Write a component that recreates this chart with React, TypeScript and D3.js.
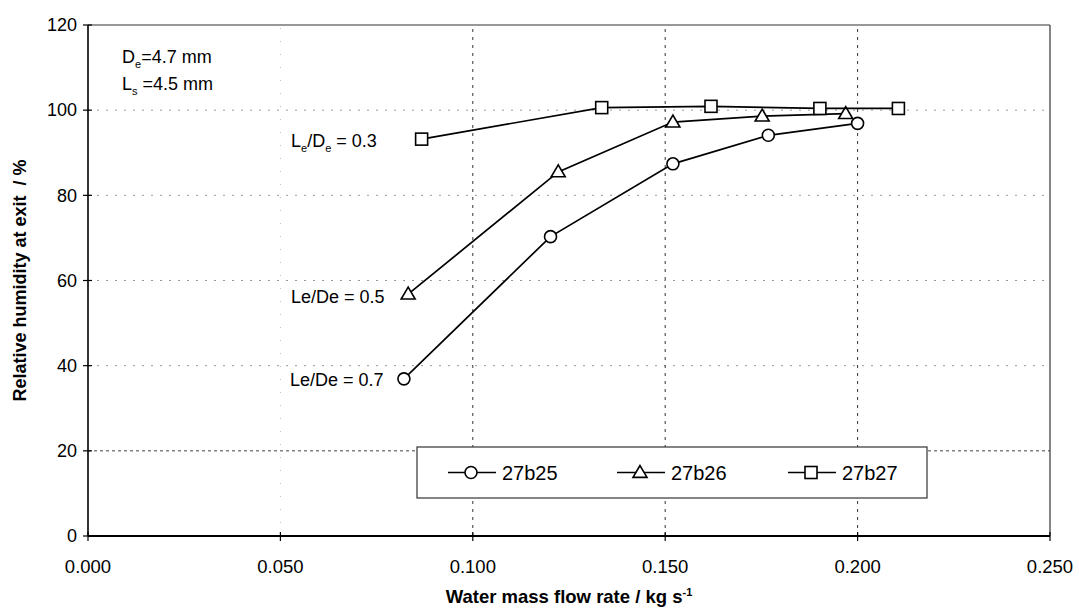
import * as d3 from 'd3'

const flow25 = [0.0821, 0.1202, 0.152, 0.1768, 0.2]
const rh25 = [36.9, 70.3, 87.4, 94.1, 96.9]
const flow26 = [0.0832, 0.1222, 0.152, 0.1752, 0.1969]
const rh26 = [56.8, 85.5, 97.2, 98.6, 99.2]
const flow27 = [0.0867, 0.1335, 0.1619, 0.1902, 0.2106]
const rh27 = [93.2, 100.6, 100.9, 100.4, 100.4]

const seriesNames = ['27b25', '27b26', '27b27']
const markers = ['circle', 'triangle', 'square']
const xTicks = [0, 0.05, 0.1, 0.15, 0.2, 0.25]
const yTicks = [0, 20, 40, 60, 80, 100, 120]

const width = 1079
const height = 608
const margin = { top: 25, right: 29, bottom: 72, left: 88 }
const font = 'Arial, "Liberation Sans", Helvetica, sans-serif'

const Marker = ({ kind, x, y }: { kind: string; x: number; y: number }) => {
  if (kind === 'circle')
    return <circle cx={x} cy={y} r={6} fill="white" stroke="black" strokeWidth={1.6} />
  if (kind === 'triangle') {
    const s = 7
    const pts = `${x},${y - s} ${x - s},${y + s * 0.7} ${x + s},${y + s * 0.7}`
    return <polygon points={pts} fill="white" stroke="black" strokeWidth={1.6} />
  }
  return <rect x={x - 6} y={y - 6} width={12} height={12} fill="white" stroke="black" strokeWidth={1.6} />
}

const App = () => {
  const xScale = d3
    .scaleLinear()
    .domain([0, 0.25])
    .range([margin.left, width - margin.right])
  const yScale = d3
    .scaleLinear()
    .domain([0, 120])
    .range([height - margin.bottom, margin.top])

  const series = [
    flow25.map((f, i) => [f, rh25[i]] as [number, number]),
    flow26.map((f, i) => [f, rh26[i]] as [number, number]),
    flow27.map((f, i) => [f, rh27[i]] as [number, number]),
  ]

  const line = d3
    .line<[number, number]>()
    .x(d => xScale(d[0]))
    .y(d => yScale(d[1]))

  const x0 = xScale(0)
  const x1 = xScale(0.25)
  const y0 = yScale(0)
  const y1 = yScale(120)

  // legend layout
  const lgX = 417
  const lgY = 447
  const lgW = 510
  const lgH = 51
  const lgItemX = [448, 617, 788]

  return (
    <svg width={width} height={height} style={{ position: 'absolute', left: 0, top: 0, background: 'white' }} fontFamily={font}>
      <rect width={width} height={height} fill="white" />

      {/* grid */}
      {yTicks.slice(1, -1).map(t => (
        <line
          key={'gy' + t}
          x1={x0}
          x2={x1}
          y1={yScale(t)}
          y2={yScale(t)}
          stroke={t === 20 ? '#444' : '#999'}
          strokeWidth={1}
          strokeDasharray={t === 20 ? '3,3' : '2,7'}
        />
      ))}
      {xTicks.slice(1, -1).map(t => (
        <line
          key={'gx' + t}
          x1={xScale(t)}
          x2={xScale(t)}
          y1={y0}
          y2={y1}
          stroke={t === 0.05 ? '#bbb' : '#333'}
          strokeWidth={1}
          strokeDasharray={t === 0.05 ? '1,12' : '3,5'}
        />
      ))}

      {/* frame */}
      <line x1={x0} x2={x1} y1={y1} y2={y1} stroke="#333" strokeWidth={1.2} />
      <line x1={x1} x2={x1} y1={y1} y2={y0} stroke="#333" strokeWidth={1.2} />
      <line x1={x0} x2={x1} y1={y0} y2={y0} stroke="black" strokeWidth={1.8} />
      <line x1={x0} x2={x0} y1={y1} y2={y0} stroke="black" strokeWidth={1.6} />

      {/* ticks */}
      {yTicks.map(t => (
        <g key={'ty' + t}>
          <line x1={x0 - 5} x2={x0 + 4} y1={yScale(t)} y2={yScale(t)} stroke="black" strokeWidth={1.2} />
          <text x={x0 - 11} y={yScale(t)} dy="0.35em" textAnchor="end" fontSize={18}>
            {t}
          </text>
        </g>
      ))}
      {xTicks.map(t => (
        <g key={'tx' + t}>
          <line x1={xScale(t)} x2={xScale(t)} y1={y0 - 4} y2={y0 + 5} stroke="black" strokeWidth={1.2} />
          <text x={xScale(t)} y={y0 + 37} textAnchor="middle" fontSize={18.5}>
            {d3.format('.3f')(t)}
          </text>
        </g>
      ))}

      {/* axis titles */}
      <text x={(x0 + x1) / 2} y={603} textAnchor="middle" fontSize={18.5} fontWeight="bold">
        Water mass flow rate / kg s
        <tspan dy={-7} fontSize={11}>-1</tspan>
      </text>
      <text
        transform={`translate(26, ${(y0 + y1) / 2}) rotate(-90)`}
        textAnchor="middle"
        fontSize={18}
        fontWeight="bold"
      >
        {'Relative humidity at exit \u00a0/ %'}
      </text>

      {/* series */}
      {series.map((s, i) => (
        <g key={seriesNames[i]}>
          <path d={line(s) ?? ''} fill="none" stroke="black" strokeWidth={1.7} />
          {s.map((d, j) => (
            <Marker key={j} kind={markers[i]} x={xScale(d[0])} y={yScale(d[1])} />
          ))}
        </g>
      ))}

      {/* annotations */}
      <text x={122} y={63} fontSize={18}>
        D<tspan dy={5} fontSize={11}>e</tspan>
        <tspan dy={-5}>=4.7 mm</tspan>
      </text>
      <text x={122} y={90} fontSize={18}>
        L<tspan dy={5} fontSize={11}>s</tspan>
        <tspan dy={-5}>{'\u00a0=4.5 mm'}</tspan>
      </text>
      <text x={291} y={147} fontSize={18}>
        L<tspan dy={5} fontSize={11}>e</tspan>
        <tspan dy={-5}>/D</tspan>
        <tspan dy={5} fontSize={11}>e</tspan>
        <tspan dy={-5}>{'\u00a0= 0.3'}</tspan>
      </text>
      <text x={291} y={303} fontSize={18}>
        Le/De = 0.5
      </text>
      <text x={290} y={386} fontSize={18}>
        Le/De = 0.7
      </text>

      {/* legend */}
      <rect x={lgX} y={lgY} width={lgW} height={lgH} fill="white" stroke="#333" strokeWidth={1.2} />
      {seriesNames.map((name, i) => {
        const lx = lgItemX[i]
        const ly = lgY + lgH / 2
        return (
          <g key={'lg' + name}>
            <line x1={lx} x2={lx + 48} y1={ly} y2={ly} stroke="black" strokeWidth={1.7} />
            <Marker kind={markers[i]} x={lx + 23} y={ly} />
            <text x={lx + 54} y={ly} dy="0.35em" fontSize={20}>
              {name}
            </text>
          </g>
        )
      })}
    </svg>
  )
}

export default App
